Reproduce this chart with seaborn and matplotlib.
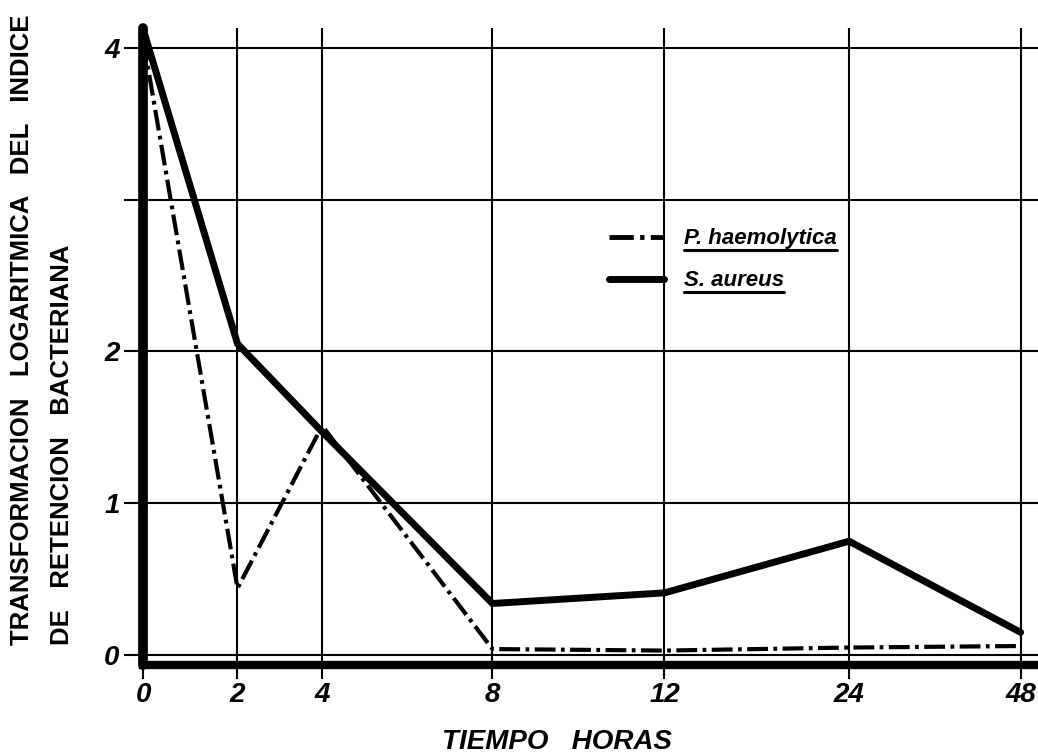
import numpy as np
import pandas as pd
import matplotlib
matplotlib.use("Agg")
import matplotlib.pyplot as plt
import seaborn as sns
from matplotlib.lines import Line2D

# datos
horas = ["0", "2", "4", "8", "12", "24", "48"]
s_aureus = [4.12, 2.05, 1.47, 0.34, 0.41, 0.75, 0.15]
p_haemolytica = [4.05, 0.44, 1.51, 0.04, 0.03, 0.05, 0.06]
y_ticks = [0, 1, 2, 3, 4]
y_labels = ["0", "1", "2", "", "4"]

# posicion horizontal de cada hora en el eje (escala no uniforme del original)
x_pos = [0, 2.17, 4.12, 8.04, 12, 16.25, 20.2]

df = pd.DataFrame({
    "x": x_pos * 2,
    "valor": s_aureus + p_haemolytica,
    "serie": ["S. aureus"] * 7 + ["P. haemolytica"] * 7,
})

sns.set_style("white", {"axes.edgecolor": "black", "text.color": "black",
                        "xtick.color": "black", "ytick.color": "black"})
plt.rcParams["font.family"] = ["Liberation Sans", "DejaVu Sans"]

fig = plt.figure(figsize=(10.38, 7.55), dpi=100)
ax = fig.add_axes([0.138, 0.119, 0.862, 0.844])

sns.lineplot(data=df[df.serie == "S. aureus"], x="x", y="valor", ax=ax,
             color="black", lw=5, solid_joinstyle="miter", zorder=3)
sns.lineplot(data=df[df.serie == "P. haemolytica"], x="x", y="valor", ax=ax,
             color="black", lw=3, zorder=3)
ax.lines[1].set_dashes([5, 1.3, 0.9, 1.3])

ax.set_xlim(0, 20.6)
ax.set_ylim(-0.066, 4.13)
ax.set_xticks(x_pos)
ax.set_xticklabels(horas)
ax.set_yticks(y_ticks)
ax.set_yticklabels(y_labels)
ax.grid(True, color="black", lw=1.5)
ax.set_axisbelow(True)
for lab in ax.get_xticklabels() + ax.get_yticklabels():
    lab.set_fontsize(20)
    lab.set_fontweight("bold")
    lab.set_fontstyle("italic")
    lab.set_color("black")
ax.tick_params(axis="x", length=10, width=1.5, pad=2, color="black", direction="out")
ax.tick_params(axis="y", length=14, width=1.5, pad=3, color="black", direction="out")
ax.xaxis.set_ticks_position("bottom")
ax.yaxis.set_ticks_position("left")

for side in ["top", "right"]:
    ax.spines[side].set_visible(False)
ax.spines["left"].set_linewidth(7)
ax.spines["bottom"].set_linewidth(6)
ax.spines["left"].set_color("black")
ax.spines["bottom"].set_color("black")
ax.spines["left"].set_capstyle("round")
ax.set_xlabel("")
ax.set_ylabel("")

handles = [Line2D([], [], color="black", lw=3.5, dashes=[5, 1.3, 0.9, 1.3]),
           Line2D([], [], color="black", lw=5)]
leg = ax.legend(handles, ["P. haemolytica", "S. aureus"], loc="center left",
                bbox_to_anchor=(0.52, 0.636), frameon=False, borderpad=0,
                borderaxespad=0, handlelength=2.5, handletextpad=0.9,
                labelspacing=0.95, prop={"size": 16, "weight": "bold", "style": "italic"})

fig.text(0.537, 0.0, "TIEMPO   HORAS", ha="center", va="bottom",
         fontsize=20, fontweight="bold", fontstyle="italic")
fig.text(0.021, 0.146, "TRANSFORMACION   LOGARITMICA   DEL   INDICE", rotation=90,
         ha="center", va="bottom", fontsize=18.5, fontweight="bold")
fig.text(0.06, 0.146, "DE   RETENCION   BACTERIANA", rotation=90,
         ha="center", va="bottom", fontsize=18.5, fontweight="bold")

# subrayado de los textos de la leyenda
fig.canvas.draw()
r = fig.canvas.get_renderer()
for t in leg.get_texts():
    bb = t.get_window_extent(r)
    yy = (bb.y0 - 1) / fig.bbox.height
    fig.add_artist(Line2D([bb.x0 / fig.bbox.width, bb.x1 / fig.bbox.width], [yy, yy],
                          color="black", lw=2.2))

fig.savefig("out.png", dpi=100)
